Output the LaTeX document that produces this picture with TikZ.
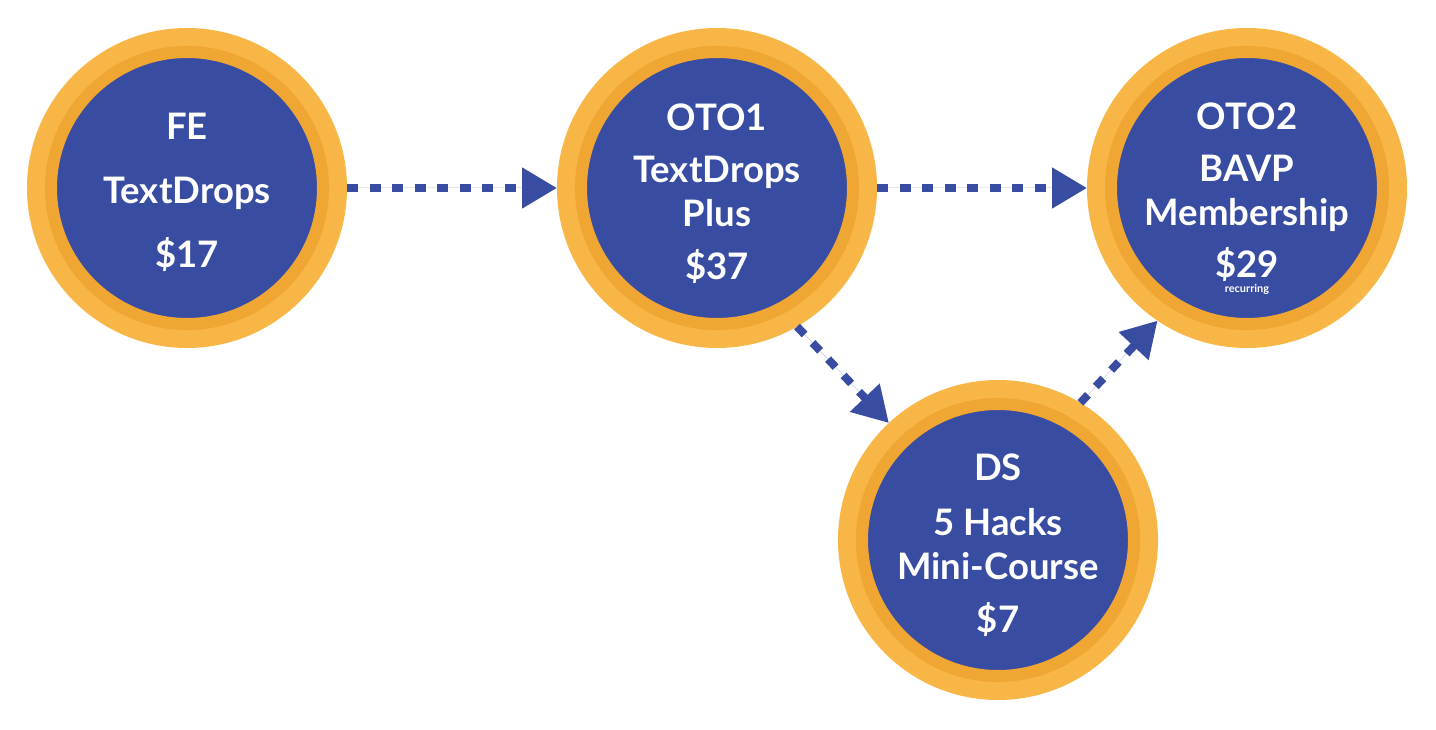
\documentclass[tikz,border=0pt]{standalone}
\usepackage{fontspec}
\setmainfont{Lato}
\usepackage{xcolor}
\usepackage{tikz}
\usetikzlibrary{positioning,arrows.meta}
\definecolor{funnelblue}{HTML}{384CA1}
\definecolor{ringlight}{HTML}{F8B646}
\definecolor{ringdark}{HTML}{EFA633}

\begin{document}
\begin{tikzpicture}[
    x=1pt, y=-1pt,
    node distance=210pt,
    offer/.style={circle, minimum size=272pt, inner sep=0pt, outer sep=24pt,
        fill=funnelblue, draw=ringdark, line width=12pt,
        preaction={draw=ringlight, line width=48pt}},
    caption/.style={text=white, align=center, inner sep=0pt,
        font=\fontsize{36.5}{44}\selectfont\bfseries},
    flow/.style={-{Triangle[length=35pt, width=39pt]}, draw=funnelblue, fill=funnelblue,
        line width=8pt, dash pattern=on 11pt off 11.5pt}
]
    \fill[white] (0,0) rectangle (1436,730);
    \useasboundingbox (0,0) rectangle (1436,730);

    % the four offers
    \node[offer] (fe) at (187,188) {};
    \node[offer, right=of fe] (oto1) {};
    \node[offer, right=of oto1] (oto2) {};
    \node[offer] (ds) at (998,540) {};

    \node[caption, yshift=-4pt] (fe-text) at (fe) {FE\\[20pt]TextDrops\\[20pt]\$17};
    \node[caption, yshift=-5.5pt] (oto1-text) at (oto1) {OTO1\\[8pt]TextDrops\\Plus\\[9pt]\$37};
    \node[caption, yshift=-11pt] (oto2-text) at (oto2) {OTO2\\[8pt]BAVP\\Membership\\[8pt]\$29\\[-29pt]{\fontsize{11}{13}\selectfont recurring}};
    \node[caption, yshift=-5pt] (ds-text) at (ds) {DS\\[11pt]5 Hacks\\Mini-Course\\[9pt]\$7};

    \draw[flow] (fe) -- (oto1);
    \draw[flow] (oto1) -- (oto2);
    \draw[flow] (oto1.-60) -- (ds.133.5);
    \draw[flow] (ds.59) -- (oto2.236);
\end{tikzpicture}
\end{document}
